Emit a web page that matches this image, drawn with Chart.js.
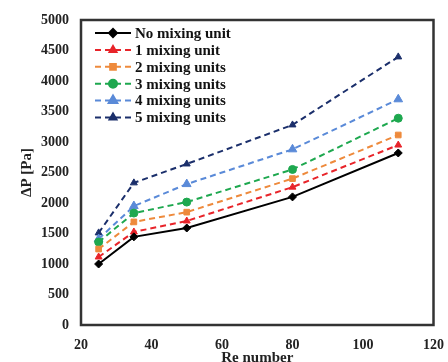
<!DOCTYPE html>
<html>
<head>
<meta charset="utf-8">
<script src="https://cdn.jsdelivr.net/npm/chart.js@4"></script>
<style>
  html, body { margin: 0; padding: 0; background: #fff; }
  #wrap { width: 448px; height: 362px; }
</style>
</head>
<body>
<div id="wrap"><canvas id="dp-chart" width="448" height="362"></canvas></div>
<script>
const reNumbers = [25, 35, 50, 80, 110];
const noMixing = [1000, 1445, 1590, 2100, 2820];
const mix1 = [1115, 1525, 1705, 2260, 2950];
const mix2 = [1245, 1690, 1850, 2400, 3115];
const mix3 = [1360, 1835, 2015, 2550, 3390];
const mix4 = [1410, 1950, 2310, 2880, 3700];
const mix5 = [1510, 2330, 2640, 3280, 4395];
const seriesNames = ['No mixing unit', '1 mixing unit', '2 mixing units', '3 mixing units', '4 mixing units', '5 mixing units'];

const serif = '"Liberation Serif", "Times New Roman", serif';

const pts = arr => arr.map((v, i) => ({ x: reNumbers[i], y: v }));

const mkSet = (name, data, color, style, radius, dashed) => ({
    label: name,
    data: pts(data),
    borderColor: color,
    backgroundColor: color,
    borderWidth: 2,
    borderDash: dashed ? [6, 4] : [],
    pointStyle: style,
    pointRadius: radius,
    pointBorderWidth: 1,
    tension: 0
});

// legend drawn inside the plot, line + marker like the original
const innerLegend = {
    id: 'innerLegend',
    afterDatasetsDraw(chart) {
        const ctx = chart.ctx;
        const area = chart.chartArea;
        ctx.save();
        chart.data.datasets.forEach((ds, i) => {
            const y = area.top + 13 + i * 16.9;
            const x0 = area.left + 14, x1 = area.left + 50;
            ctx.strokeStyle = ds.borderColor;
            ctx.lineWidth = 2;
            ctx.setLineDash(ds.borderDash);
            ctx.beginPath();
            ctx.moveTo(x0, y);
            ctx.lineTo(x1, y);
            ctx.stroke();
            ctx.setLineDash([]);
            Chart.helpers.drawPoint(ctx, {
                pointStyle: ds.pointStyle,
                radius: ds.pointRadius,
                borderWidth: 1
            }, (x0 + x1) / 2, y);
            ctx.fillStyle = ds.borderColor;
            ctx.fill();
            ctx.fillStyle = '#111';
            ctx.font = 'bold 15px ' + serif;
            ctx.textBaseline = 'middle';
            ctx.fillText(ds.label, x1 + 4, y + 1);
        });
        ctx.restore();
    }
};

const frame = {
    id: 'frame',
    afterDraw(chart) {
        const a = chart.chartArea;
        const ctx = chart.ctx;
        ctx.save();
        ctx.strokeStyle = '#333';
        ctx.lineWidth = 2.5;
        ctx.strokeRect(a.left, a.top, a.right - a.left, a.bottom - a.top);
        ctx.restore();
    }
};

new Chart(document.getElementById('dp-chart'), {
    type: 'line',
    data: {
        datasets: [
            mkSet(seriesNames[0], noMixing, '#000000', 'rectRot', 4, false),
            mkSet(seriesNames[1], mix1, '#e8242a', 'triangle', 4, true),
            mkSet(seriesNames[2], mix2, '#ee8a3c', 'rect', 4, true),
            mkSet(seriesNames[3], mix3, '#1ea84f', 'circle', 4, true),
            mkSet(seriesNames[4], mix4, '#5a8ad8', 'triangle', 5, true),
            mkSet(seriesNames[5], mix5, '#1b2f6b', 'triangle', 4, true)
        ]
    },
    options: {
        responsive: false,
        animation: false,
        layout: { padding: { top: 20, right: 14, left: 0, bottom: 0 } },
        plugins: { legend: { display: false }, tooltip: { enabled: false } },
        scales: {
            x: {
                type: 'linear',
                min: 20, max: 120,
                afterFit: s => { s.height = 37; },
                grid: { display: false },
                border: { display: false },
                ticks: { stepSize: 20, color: '#222', padding: 4, font: { family: serif, size: 14, weight: 'bold' } },
                title: { display: true, text: 'Re number', color: '#222', padding: { top: 0, bottom: -5 }, font: { family: serif, size: 15, weight: 'bold' } }
            },
            y: {
                min: 0, max: 5000,
                afterFit: s => { s.width = 81; },
                grid: { display: false },
                border: { display: false },
                ticks: { stepSize: 500, color: '#222', padding: 4, callback: v => String(v), font: { family: serif, size: 14, weight: 'bold' } },
                title: { display: true, text: 'ΔP [Pa]', color: '#222', padding: { top: 18, bottom: 0 }, font: { family: serif, size: 15, weight: 'bold' } }
            }
        }
    },
    plugins: [innerLegend, frame]
});
</script>
</body>
</html>
